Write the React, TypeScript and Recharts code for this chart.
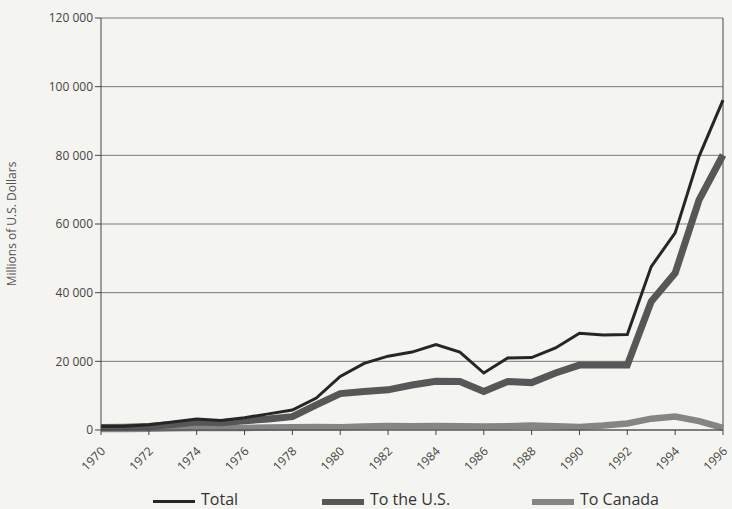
import React from 'react';
import { LineChart, Line, XAxis, YAxis, CartesianGrid, ReferenceLine } from 'recharts';

const years = [1970, 1971, 1972, 1973, 1974, 1975, 1976, 1977, 1978, 1979, 1980, 1981, 1982, 1983, 1984, 1985, 1986, 1987, 1988, 1989, 1990, 1991, 1992, 1993, 1994, 1995, 1996];
const total = [1000, 1100, 1500, 2300, 3200, 2800, 3600, 4700, 5800, 9300, 15600, 19400, 21500, 22700, 24900, 22700, 16600, 21000, 21100, 23900, 28200, 27700, 27800, 47600, 57400, 79700, 96100];
const toUS = [700, 800, 1000, 1600, 2300, 2100, 2700, 3200, 3900, 7300, 10600, 11200, 11700, 13100, 14200, 14100, 11200, 14100, 13800, 16600, 18900, 18900, 18900, 37400, 45700, 67000, 80100];
const toCanada = [300, 300, 400, 500, 600, 600, 600, 700, 800, 900, 800, 1000, 1200, 1100, 1200, 1100, 1000, 1100, 1300, 1100, 900, 1300, 1900, 3300, 3900, 2600, 600];
const xTicks = [1970, 1972, 1974, 1976, 1978, 1980, 1982, 1984, 1986, 1988, 1990, 1992, 1994, 1996];
const yTicks = [0, 20000, 40000, 60000, 80000, 100000, 120000];
const seriesNames = ['Total', 'To the U.S.', 'To Canada'];

const data = years.map((y, i) => ({ year: y, total: total[i], us: toUS[i], canada: toCanada[i] }));

const FONT = '"Open Sans", "Noto Sans", sans-serif';
const COLORS = { total: '#262626', us: '#575757', canada: '#858585' };

const fmt = (v: number) => (v === 0 ? '0' : v.toLocaleString('en-US').replace(/,/g, ' '));

const XTick = (props: any) => {
  const { x, y, payload } = props;
  const ax = x + 5;
  const ay = y + 15;
  return (
    <text
      x={ax}
      y={ay}
      transform={`rotate(-45 ${ax} ${ay})`}
      textAnchor="end"
      fontSize={12}
      fontFamily={FONT}
      fill="#444"
    >
      {payload.value}
    </text>
  );
};

const legendItems = [
  { name: seriesNames[0], color: COLORS.total, width: 2.5, left: 153 },
  { name: seriesNames[1], color: COLORS.us, width: 6, left: 322 },
  { name: seriesNames[2], color: COLORS.canada, width: 6, left: 532 },
];

export default function App() {
  return (
    <div style={{ position: 'absolute', left: 0, top: 0, width: 732, height: 509, background: '#f4f4f1', fontFamily: FONT, overflow: 'hidden' }}>
      <LineChart width={732} height={509} data={data} margin={{ top: 18, right: 9, bottom: 0, left: 0 }}>
        <CartesianGrid vertical={false} stroke="#7a7a7a" strokeWidth={1} />
        <XAxis
          dataKey="year"
          type="number"
          domain={[1970, 1996]}
          ticks={xTicks}
          interval={0}
          height={79}
          tick={<XTick />}
          tickSize={5}
          stroke="#444"
          tickLine={{ stroke: '#444' }}
        />
        <YAxis
          type="number"
          domain={[0, 120000]}
          ticks={yTicks}
          interval={0}
          width={101}
          tickSize={6}
          tickFormatter={fmt}
          stroke="#444"
          tick={{ fontSize: 12, fontFamily: FONT, fill: '#444' }}
          label={{ value: 'Millions of U.S. Dollars', angle: -90, position: 'insideLeft', offset: 12, style: { fontSize: 12, fontFamily: FONT, fill: '#555', textAnchor: 'middle' } }}
        />
        <ReferenceLine x={1996} stroke="#444" strokeWidth={1} />
        <Line type="linear" dataKey="canada" name={seriesNames[2]} stroke={COLORS.canada} strokeWidth={6.5} dot={false} isAnimationActive={false} />
        <Line type="linear" dataKey="us" name={seriesNames[1]} stroke={COLORS.us} strokeWidth={7} dot={false} isAnimationActive={false} />
        <Line type="linear" dataKey="total" name={seriesNames[0]} stroke={COLORS.total} strokeWidth={3} dot={false} isAnimationActive={false} />
      </LineChart>
      {legendItems.map((it) => (
        <div key={it.name} style={{ position: 'absolute', left: it.left, top: 490, height: 19, display: 'flex', alignItems: 'center' }}>
          <div style={{ width: 42, height: it.width, background: it.color, marginTop: 4 }} />
          <span style={{ marginLeft: 6, fontSize: 16, color: '#333', lineHeight: '19px' }}>{it.name}</span>
        </div>
      ))}
    </div>
  );
}
